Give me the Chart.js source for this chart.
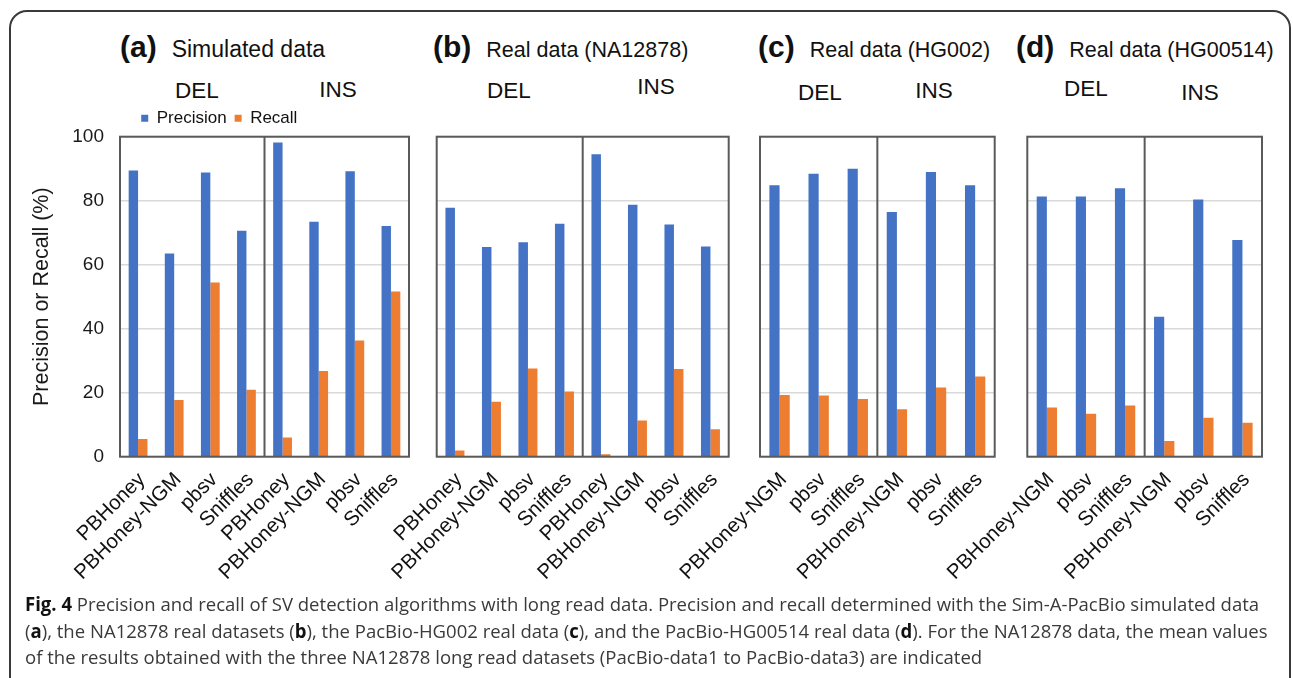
<!DOCTYPE html>
<html>
<head>
<meta charset="utf-8">
<script src="https://cdn.jsdelivr.net/npm/chart.js@4.4.1/dist/chart.umd.min.js"></script>
<style>
    html, body { margin: 0; padding: 0; background: #fff; }
    body { width: 1293px; height: 678px; position: relative; overflow: hidden; font-family: "Liberation Sans", Arial, sans-serif; color: #111; }
    .frame { position: absolute; left: 9px; top: 10px; width: 1282px; height: 740px; border: 2px solid #3a3a3a; border-radius: 18px; box-sizing: border-box; }
    canvas { position: absolute; top: 0; }
    .title { position: absolute; white-space: nowrap; transform: translateY(-50%); }
    .title b { font-size: 30px; margin-right: 15px; }
    .sub { position: absolute; white-space: nowrap; font-size: 22.5px; transform: translate(-50%, -50%); }
    .caption { position: absolute; left: 25px; top: 591px; font-family: "Open Sans", "Noto Sans", sans-serif; font-size: 19px; line-height: 26.5px; color: #3a3a3a; white-space: nowrap; transform-origin: 0 0; }
    .caption b { color: #111; }
</style>
</head>
<body>
<div class="frame"></div>

<div class="title" style="left:120px; top:47px; font-size:23px;"><b>(a)</b>Simulated data</div>
<div class="title" style="left:433px; top:47px; font-size:21.5px;"><b>(b)</b>Real data (NA12878)</div>
<div class="title" style="left:758px; top:47px; font-size:21.5px;"><b>(c)</b>Real data (HG002)</div>
<div class="title" style="left:1016px; top:47px; font-size:21.5px;"><b>(d)</b>Real data (HG00514)</div>

<div class="sub" style="left:197px; top:91px;">DEL</div>
<div class="sub" style="left:338px; top:90px;">INS</div>
<div class="sub" style="left:509px; top:91px;">DEL</div>
<div class="sub" style="left:656px; top:87px;">INS</div>
<div class="sub" style="left:820px; top:93px;">DEL</div>
<div class="sub" style="left:934px; top:91px;">INS</div>
<div class="sub" style="left:1086px; top:89px;">DEL</div>
<div class="sub" style="left:1200px; top:93px;">INS</div>

<canvas id="chartA"></canvas>
<canvas id="chartB"></canvas>
<canvas id="chartC"></canvas>
<canvas id="chartD"></canvas>

<div class="caption" id="caption">
    <div id="capLine1"><b>Fig. 4</b> Precision and recall of SV detection algorithms with long read data. Precision and recall determined with the Sim-A-PacBio simulated data</div>
    <div>(<b>a</b>), the NA12878 real datasets (<b>b</b>), the PacBio-HG002 real data (<b>c</b>), and the PacBio-HG00514 real data (<b>d</b>). For the NA12878 data, the mean values</div>
    <div>of the results obtained with the three NA12878 long read datasets (PacBio-data1 to PacBio-data3) are indicated</div>
</div>

<script>
// tools shown under each box
const toolsAll = ['PBHoney', 'PBHoney-NGM', 'pbsv', 'Sniffles'];
const toolsNoPBHoney = ['PBHoney-NGM', 'pbsv', 'Sniffles'];

// (a) simulated data
const simDelPrecision = [89.4, 63.5, 88.8, 70.6];
const simDelRecall = [5.5, 17.7, 54.4, 20.9];
const simInsPrecision = [98.2, 73.4, 89.2, 72.1];
const simInsRecall = [6.0, 26.8, 36.3, 51.6];

// (b) NA12878 (mean of three datasets)
const naDelPrecision = [77.8, 65.5, 67.0, 72.8];
const naDelRecall = [1.9, 17.2, 27.6, 20.4];
const naInsPrecision = [94.5, 78.7, 72.6, 65.7];
const naInsRecall = [0.8, 11.3, 27.4, 8.6];

// (c) HG002
const hg002DelPrecision = [84.8, 88.4, 90.0];
const hg002DelRecall = [19.3, 19.1, 18.0];
const hg002InsPrecision = [76.5, 89.0, 84.8];
const hg002InsRecall = [14.8, 21.6, 25.1];

// (d) HG00514
const hg514DelPrecision = [81.3, 81.3, 83.9];
const hg514DelRecall = [15.4, 13.4, 16.0];
const hg514InsPrecision = [43.7, 80.4, 67.7];
const hg514InsRecall = [4.9, 12.2, 10.6];

const yTicks = [0, 20, 40, 60, 80, 100];

const BLUE = '#4472C4';
const ORANGE = '#ED7D31';
const CANVAS_H = 620;
const PLOT_TOP = 136.7;
const PLOT_BOTTOM = 456.7;

// outline each panel and split it into its DEL / INS boxes
const boxPlugin = {
    id: 'svBoxes',
    afterDatasetsDraw(chart, args, opts) {
        const { ctx, chartArea: a, scales: { x } } = chart;
        const split = x.getPixelForValue(opts.split - 0.5);
        ctx.save();
        ctx.strokeStyle = '#5a5a5a';
        ctx.lineWidth = 2;
        ctx.strokeRect(a.left, a.top, a.right - a.left, a.bottom - a.top);
        ctx.beginPath();
        ctx.moveTo(split, a.top);
        ctx.lineTo(split, a.bottom);
        ctx.stroke();
        ctx.restore();
    }
};

function buildPanel(canvasId, plot, del, ins, showAxis) {
    const canvasLeft = Math.floor(plot.left - 120);
    const canvas = document.getElementById(canvasId);
    canvas.style.left = canvasLeft + 'px';
    canvas.width = Math.ceil(plot.right + 20 - canvasLeft);
    canvas.height = CANVAS_H;

    const padding = { left: plot.left - canvasLeft, right: 20, top: 100, bottom: 40 };
    const yWidth = showAxis ? 90.4 : 0;
    if (showAxis) padding.left -= yWidth;

    const chart = new Chart(canvas, {
        type: 'bar',
        data: {
            labels: [...del.tools, ...ins.tools],
            datasets: [{
                label: 'Precision',
                data: [...del.precision, ...ins.precision],
                backgroundColor: BLUE
            }, {
                label: 'Recall',
                data: [...del.recall, ...ins.recall],
                backgroundColor: ORANGE
            }]
        },
        options: {
            responsive: false,
            animation: false,
            devicePixelRatio: 1,
            layout: { padding },
            datasets: { bar: { categoryPercentage: 0.52, barPercentage: 1.0 } },
            plugins: {
                legend: {
                    display: showAxis,
                    position: 'top',
                    labels: {
                        boxWidth: 7,
                        boxHeight: 7,
                        padding: 8,
                        color: '#111',
                        font: { family: 'Liberation Sans', size: 17 }
                    }
                },
                tooltip: { enabled: false },
                svBoxes: { split: del.tools.length }
            },
            scales: {
                x: {
                    grid: { display: false, drawTicks: false },
                    border: { display: false },
                    ticks: {
                        autoSkip: false,
                        minRotation: 45,
                        maxRotation: 45,
                        padding: 11,
                        labelOffset: 4,
                        color: '#111',
                        font: { family: 'Liberation Sans', size: 20.5 }
                    }
                },
                y: {
                    min: 0,
                    max: 100,
                    afterBuildTicks: scale => {
                        scale.ticks = yTicks.map(v => ({ value: v }));
                    },
                    afterFit: scale => {
                        scale.width = yWidth;
                    },
                    grid: { color: '#d9d9d9', lineWidth: 1.5, drawTicks: false },
                    border: { display: false },
                    ticks: {
                        display: showAxis,
                        padding: 16,
                        color: '#1a1a1a',
                        font: { family: 'Liberation Sans', size: 19 }
                    },
                    title: {
                        display: showAxis,
                        text: 'Precision or Recall (%)',
                        padding: 0,
                        color: '#1a1a1a',
                        font: { family: 'Liberation Sans', size: 21.5 }
                    }
                }
            }
        },
        plugins: [boxPlugin]
    });

    // nudge the layout padding until the plot box sits where the figure has it
    for (let i = 0; i < 3; i++) {
        const a = chart.chartArea;
        padding.left += (plot.left - canvasLeft) - a.left;
        padding.right += a.right - (plot.right - canvasLeft);
        padding.top += PLOT_TOP - a.top;
        padding.bottom += a.bottom - PLOT_BOTTOM;
        chart.update('none');
    }
    return chart;
}

buildPanel('chartA', { left: 120, right: 409 },
    { tools: toolsAll, precision: simDelPrecision, recall: simDelRecall },
    { tools: toolsAll, precision: simInsPrecision, recall: simInsRecall }, true);

buildPanel('chartB', { left: 436.7, right: 728.7 },
    { tools: toolsAll, precision: naDelPrecision, recall: naDelRecall },
    { tools: toolsAll, precision: naInsPrecision, recall: naInsRecall }, false);

buildPanel('chartC', { left: 760, right: 994.7 },
    { tools: toolsNoPBHoney, precision: hg002DelPrecision, recall: hg002DelRecall },
    { tools: toolsNoPBHoney, precision: hg002InsPrecision, recall: hg002InsRecall }, false);

buildPanel('chartD', { left: 1027.3, right: 1262 },
    { tools: toolsNoPBHoney, precision: hg514DelPrecision, recall: hg514DelRecall },
    { tools: toolsNoPBHoney, precision: hg514InsPrecision, recall: hg514InsRecall }, false);

// squeeze the caption so its first line spans the same width as in the figure
const caption = document.getElementById('caption');
const lineWidth = document.getElementById('capLine1').scrollWidth;
caption.style.transform = 'scaleX(' + (1243 / lineWidth) + ')';
</script>
</body>
</html>
